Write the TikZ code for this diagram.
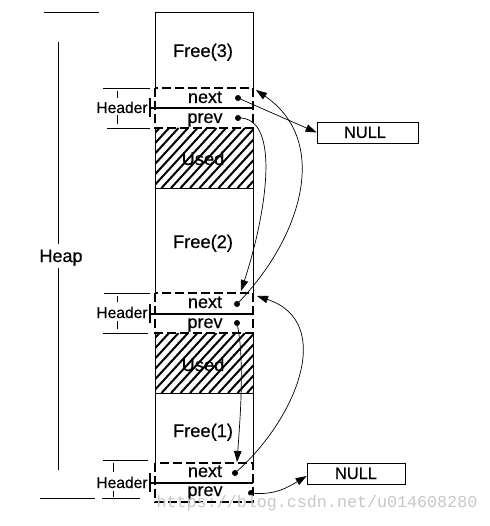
\documentclass[tikz,border=0pt]{standalone}
\usepackage{fontspec}
\setmainfont[FakeBold=0.5]{Liberation Sans}
\newfontfamily\wmfont{Liberation Mono}
\usetikzlibrary{arrows.meta}
\begin{document}
\begin{tikzpicture}[x=1pt,y=-1pt,
  thinline/.style={line width=0.7pt},
  hdrbox/.style={line width=2.8pt,dash pattern=on 9pt off 4pt},
  divline/.style={line width=2.2pt},
  hatchline/.style={line width=2pt},
  arr/.style={line width=0.7pt,-{Triangle[length=11pt,width=7.5pt]}},
  dotn/.style={circle,fill,inner sep=0pt,minimum size=6pt},
  bigtxt/.style={inner sep=0pt,anchor=base,font=\fontsize{18.3}{21}\selectfont},
  fldtxt/.style={inner sep=0pt,anchor=base,font=\fontsize{18}{21}\selectfont},
  hdrtxt/.style={inner sep=0pt,anchor=base,font=\fontsize{15.6}{18}\selectfont},
  nullbox/.style={draw,line width=0.8pt,minimum height=21pt,minimum width=#1,inner sep=0pt},
  nulltxt/.style={inner sep=0pt,anchor=base,font=\fontsize{16.4}{19}\selectfont},
  dimline/.style={line width=0.6pt}]
\useasboundingbox (0,0) rectangle (489,526);
% column thin outlines
\draw[thinline] (155,88) -- (155,12) -- (253,12) -- (253,88);
\draw[thinline] (155,128) -- (155,293);
\draw[thinline] (253,128) -- (253,293);
\draw[thinline] (155,333) -- (155,463);
\draw[thinline] (253,333) -- (253,463);
\draw[thinline] (155,188) -- (253,188);
\draw[thinline] (155,393) -- (253,393);
% hatching
\begin{scope}
\clip (155,128) rectangle (253,188);
\foreach \i in {0,...,18} \draw[hatchline] (95+\i*9.5,188) -- ++(55,-60);
\end{scope}
\begin{scope}
\clip (155,333) rectangle (253,393);
\foreach \i in {0,...,18} \draw[hatchline] (95+\i*9.5,393) -- ++(55,-60);
\end{scope}
% header boxes
\draw[hdrbox] (155,88) rectangle (253,128);
\draw[hdrbox] (155,293) rectangle (253,333);
\draw[hdrbox] (155,463) rectangle (253,502);
\draw[divline] (150,108) -- (253,108);
\draw[divline] (150,314) -- (253,314);
\draw[divline] (150,483) -- (253,483);
\draw[divline] (150,98) -- (150,117);
\draw[divline] (150,304) -- (150,323);
\draw[divline] (150,473) -- (150,492);
% texts in column
\node[bigtxt] (f3) at (203,57) {Free(3)};
\node[fldtxt] (tn1) at (205,103) {next};
\node[fldtxt] (tp1) at (205,123) {prev};
\node[bigtxt] (u1) at (203,165) {Used};
\node[bigtxt] (f2) at (203,248) {Free(2)};
\node[fldtxt] (tn2) at (205,308) {next};
\node[fldtxt] (tp2) at (205,328) {prev};
\node[bigtxt] (u2) at (203,371) {Used};
\node[bigtxt] (f1) at (203,437) {Free(1)};
\node[fldtxt] (tn3) at (205,477) {next};
\node[fldtxt] (tp3) at (205,496) {prev};
% header annotations
\node[hdrtxt] (h1) at (122,113) {Header};
\node[hdrtxt] (h2) at (122,318) {Header};
\node[hdrtxt] (h3) at (122,488) {Header};
\draw[dimline] (103,88) -- (150,88);
\draw[dimline] (107,128) -- (150,128);
\draw[dimline] (117,91) -- (117,98);
\draw[dimline] (117,115) -- (117,124);
\draw[dimline] (104,293) -- (150,293);
\draw[dimline] (103,333) -- (148,333);
\draw[dimline] (117,296) -- (117,302);
\draw[dimline] (117,321) -- (117,329);
\draw[dimline] (103,460) -- (148,460);
\draw[dimline] (113,463) -- (113,472);
\draw[dimline] (113,491) -- (113,497);
% heap dimension
\node[inner sep=0pt,anchor=base,font=\fontsize{18}{21}\selectfont] (heap) at (61,262) {Heap};
\draw[dimline] (44,12) -- (99,12);
\draw[dimline] (58,42) -- (58,244);
\draw[dimline] (58,268) -- (58,470);
\draw[dimline] (40,498) -- (95,498);
\draw[dimline] (102,498) -- (140,498);
% NULL boxes
\node[nullbox=101pt] (null1) at (367.5,132.5) {};
\node[nulltxt] (nt1) at (365,138) {NULL};
\node[nullbox=98pt] (null2) at (356,473.5) {};
\node[nulltxt] (nt2) at (356,479) {NULL};
% dots
\node[dotn] (n1) at (238,98) {};
\node[dotn] (p1) at (238,118) {};
\node[dotn] (n2) at (237,304) {};
\node[dotn] (p2) at (237,323) {};
\node[dotn] (n3) at (235,473) {};
\node[dotn] (p3) at (251,493) {};
\coordinate (c1) at (256,90);
\coordinate (c2) at (241,291);
\coordinate (c3) at (257,296);
\coordinate (c4) at (237,462);
% pointers
\draw[arr] (n1.center) -- (null1.west);
\draw[arr] (p1.center) .. controls (282,116) and (266,215) .. (c2);
\draw[arr] (n2.center) .. controls (300,240) and (332,142) .. (c1);
\draw[arr] (p2.center) .. controls (245,360) and (240,420) .. (c4);
\draw[arr] (n3.center) .. controls (296,420) and (336,322) .. (c3);
\draw[arr] (p3.center) .. controls (275,496) and (290,486) .. ([yshift=-2.5pt]null2.west);
% watermark
\node[inner sep=0pt,text=black!22,font=\wmfont\fontsize{16.7}{19}\selectfont] (wm) at (317,503) {https://blog.csdn.net/u014608280};
\end{tikzpicture}
\end{document}
